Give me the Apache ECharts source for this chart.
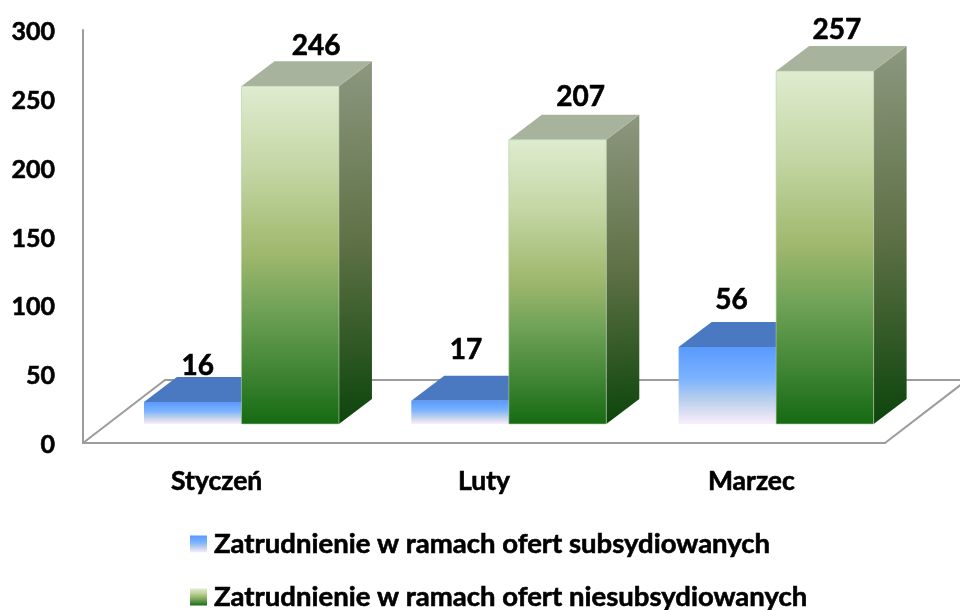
<!DOCTYPE html>
<html>
<head>
<meta charset="utf-8">
<style>html,body{margin:0;padding:0;background:#fff}#c{width:960px;height:610px}</style>
<script src="https://cdn.jsdelivr.net/npm/echarts@6/dist/echarts.min.js"></script>
</head>
<body>
<div id="c"></div>
<script>
const categories = ['Styczeń', 'Luty', 'Marzec'];
const subsidised = [16, 17, 56];
const unsubsidised = [246, 207, 257];
const nameSubsidised = 'Zatrudnienie w ramach ofert subsydiowanych';
const nameUnsubsidised = 'Zatrudnienie w ramach ofert niesubsydiowanych';

const FONT = 'Lato';
const INK = '#000000';
const AXIS = '#9c9c9c';
const FLOOR_DX = 82, FLOOR_DY = 63;
const DX = 33, DY = 25;
const SHIFT = 24.8;
const BAR = 0.3647;
const HEAVY = { textBorderColor: INK, textBorderWidth: 0.6 };

const grad = (stops, x2 = 0, y2 = 1) => new echarts.graphic.LinearGradient(0, 0, x2, y2,
  stops.map(([offset, color]) => ({ offset, color })));

const blueFront = () => grad([[0, '#5a9aff'], [0.4, '#79b2ff'], [0.7, '#bcd0ec'], [1, '#fbeefb']]);
const greenFront = () => grad([[0, '#dfecd0'], [0.25, '#c3d6a3'], [0.5, '#9eb76c'], [0.66, '#6fa257'], [0.85, '#3f8433'], [1, '#156a12']]);
const blueSide = () => grad([[0, '#3e6aa8'], [1, '#8e9ab0']], 0.4, 1);
const greenSide = () => grad([[0, '#8d9880'], [0.5, '#5f7146'], [1, '#0c450b']], 0.4, 1);

const labelShift = {
  blue: [[5, -11], [6, -26], [4, -22]],
  green: [[26, -15], [23, -18], [12, -16]]
};

function bar(side, front, top, rightFace, key, edge) {
  return function (params, api) {
    const i = api.value(0), v = api.value(1);
    const w = api.size([1, 0])[0] * BAR;
    const p0 = api.coord([i, 0]), p1 = api.coord([i, v]);
    const c = p0[0] + SHIFT;
    const x0 = side < 0 ? c - w : c, x1 = x0 + w;
    const yB = p0[1], yT = p1[1];
    const [lx, ly] = labelShift[key][i];
    const poly = (points, fill) => ({ type: 'polygon', shape: { points }, style: { fill } });
    return {
      type: 'group',
      children: [
        poly([[x1, yT], [x1 + DX, yT - DY], [x1 + DX, yB - DY], [x1, yB]], rightFace()),
        poly([[x0, yT], [x0 + DX, yT - DY], [x1 + DX, yT - DY], [x1, yT]], top),
        { type: 'rect', shape: { x: x0, y: yT, width: w, height: yB - yT }, style: { fill: front(), stroke: edge, lineWidth: edge ? 0.6 : 0 } },
        {
          type: 'text',
          style: {
            x: (x0 + x1) / 2 + lx, y: yT - DY + ly, text: String(v),
            align: 'center', verticalAlign: 'middle',
            fontFamily: FONT, fontWeight: 'bold', fontSize: 28, fill: INK,
            stroke: INK, lineWidth: 0.6
          }
        }
      ]
    };
  };
}

function floor(params) {
  const s = params.coordSys;
  const L = s.x, R = s.x + s.width, B = s.y + s.height;
  return {
    type: 'polyline',
    shape: { points: [[L, B], [L + FLOOR_DX, B - FLOOR_DY], [R + FLOOR_DX, B - FLOOR_DY], [R, B]] },
    style: { fill: null, stroke: AXIS, lineWidth: 2 }
  };
}

const chart = echarts.init(document.getElementById('c'), null, { renderer: 'canvas' });
chart.setOption({
  animation: false,
  backgroundColor: '#ffffff',
  grid: [
    { left: 83, top: 30, width: 802, height: 413 },
    { left: 83, top: 12, width: 802, height: 412 },
    { left: 83, top: 32, width: 802, height: 413 }
  ],
  xAxis: [
    {
      gridIndex: 0, type: 'category', data: categories,
      axisTick: { show: false },
      axisLine: { show: true, lineStyle: { color: AXIS, width: 2 } },
      axisLabel: { margin: 25, color: INK, fontFamily: FONT, fontWeight: 'bold', fontSize: 26.5, ...HEAVY }
    },
    { gridIndex: 1, type: 'category', data: categories, show: false },
    { gridIndex: 2, type: 'category', data: categories, show: false }
  ],
  yAxis: [
    {
      gridIndex: 0, type: 'value', min: 0, max: 300, interval: 50,
      splitLine: { show: false },
      axisTick: { show: false },
      axisLabel: { show: false },
      axisLine: { show: true, lineStyle: { color: AXIS, width: 2 } }
    },
    { gridIndex: 1, type: 'value', min: 0, max: 300, show: false, splitLine: { show: false } },
    {
      gridIndex: 2, type: 'value', min: 0, max: 300, interval: 50,
      splitLine: { show: false },
      axisTick: { show: false },
      axisLine: { show: false },
      axisLabel: { margin: 28, color: INK, fontFamily: FONT, fontWeight: 'bold', fontSize: 25, ...HEAVY }
    }
  ],
  legend: {
    left: 190, top: 529, width: 640, height: 120, orient: 'vertical', padding: 0, itemWidth: 17, itemHeight: 17, itemGap: 23,
    selectedMode: false,
    textStyle: { color: INK, fontFamily: FONT, fontWeight: 'bold', fontSize: 27.5, lineHeight: 30, padding: [0, 0, 0, 2], ...HEAVY },
    data: [
      { name: nameSubsidised, icon: 'rect', itemStyle: { color: blueFront() } },
      { name: nameUnsubsidised, icon: 'rect', itemStyle: { color: greenFront() } }
    ]
  },
  series: [
    {
      name: 'floor', type: 'custom', xAxisIndex: 0, yAxisIndex: 0, silent: true,
      renderItem: floor, data: [[0, 0]], clip: false, z: 1
    },
    {
      name: nameSubsidised, type: 'custom', xAxisIndex: 1, yAxisIndex: 1, z: 3,
      encode: { x: 0, y: 1 },
      renderItem: bar(-1, blueFront, '#4a79c2', blueSide, 'blue', null),
      data: subsidised.map((v, i) => [i, v])
    },
    {
      name: nameUnsubsidised, type: 'custom', xAxisIndex: 1, yAxisIndex: 1, z: 4,
      encode: { x: 0, y: 1 },
      renderItem: bar(1, greenFront, '#a7b39c', greenSide, 'green', '#b4cda6'),
      data: unsubsidised.map((v, i) => [i, v])
    }
  ]
});
</script>
</body>
</html>
